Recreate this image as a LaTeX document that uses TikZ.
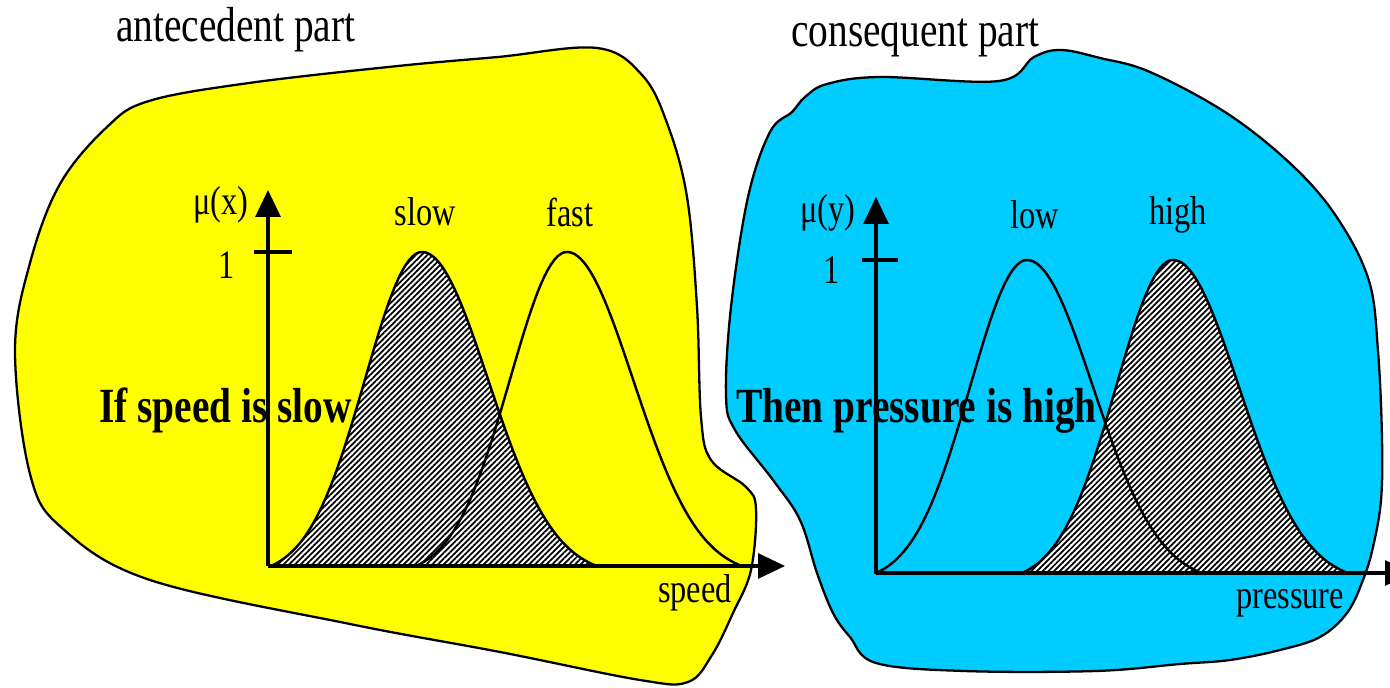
\documentclass[tikz,border=0pt]{standalone}
\usepackage{fontspec}
\setmainfont{Liberation Serif}[FakeStretch=0.8]
\usepackage{xcolor}
\usetikzlibrary{arrows.meta,patterns.meta}
\definecolor{sunblob}{RGB}{255,255,0}
\definecolor{skyblob}{RGB}{0,204,255}

\begin{document}
\begin{tikzpicture}[
  x=0.02cm, y=-0.02cm,
  blob/.style={draw=black, line width=1.3pt, line join=round},
  axis/.style={line width=1.8pt, -{Triangle[width=0.5cm,length=0.54cm]}},
  tickmark/.style={line width=1.8pt},
  curve/.style={line width=1.4pt},
  hatched/.style={preaction={fill=white},
    pattern={Lines[angle=45,distance=2.3pt,line width=1pt]}},
  title/.style={font=\fontsize{28}{32}\selectfont, anchor=base west},
  rule/.style={font=\fontsize{28}{32}\selectfont\bfseries, anchor=base west},
  lbl/.style={font=\fontsize{23}{27}\selectfont, inner sep=0pt},
  declare function={
    sig(\x,\c) = (\x<\c)*57 + (\x>=\c)*66;
    mf(\x,\c) = max(0, (exp(-0.5*((\x-\c)/sig(\x,\c))^2) - 0.03)/0.97);
  }
]
\clip (0,0) rectangle (1390,688);

% Antecedent region
\draw[blob, fill=sunblob] plot[smooth cycle, tension=0.6] coordinates {
  (107,127) (149,101) (249,83) (398,66) (498,57) (597,48) (642,75)
  (667,123) (687,197) (697,307) (701,417) (711,460) (746,487) (756,509)
  (751,570) (733,613) (712,655) (688,682) (640,680) (500,652) (350,624)
  (150,580) (62,528) (30,474) (15,351) (30,263) (60,184)};

% Consequent region
\draw[blob, fill=skyblob] plot[smooth cycle, tension=0.6] coordinates {
  (792,112) (805,97) (827,84) (880,77) (999,81) (1034,57)
  (1061,50) (1100,58) (1150,72) (1228,114) (1294,167) (1338,219)
  (1369,281) (1378,351) (1382,439) (1381,500) (1373,547) (1363,580)
  (1347,613) (1320,637) (1280,650) (1230,660) (1180,664) (1096,671)
  (964,671) (876,663) (850,637) (833,613) (817,573) (800,520) (773,480)
  (735,430) (726,395) (731,307) (748,197) (770,132)};

% Axes anchors
\coordinate (o1) at (268,566);
\coordinate (xa1) at (785,566);
\coordinate (ya1) at (268,190);
\coordinate (t1a) at (254,252);
\coordinate (t1b) at (292,252);
\coordinate (o2) at (876,573);
\coordinate (xa2) at (1412,573);
\coordinate (ya2) at (876,197);
\coordinate (t2a) at (862,260);
\coordinate (t2b) at (898,260);

% Membership functions: speed
\fill[hatched] plot[domain=268:600, samples=100] (\x,{566-314*mf(\x,422)}) -- cycle;
\draw[curve] plot[domain=268:600, samples=100] (\x,{566-314*mf(\x,422)});
\draw[curve] plot[domain=414:745, samples=100] (\x,{566-314*mf(\x,567)});

% Membership functions: pressure
\fill[hatched] plot[domain=1020:1350, samples=100] (\x,{573-313*mf(\x,1173)}) -- cycle;
\draw[curve] plot[domain=1020:1350, samples=100] (\x,{573-313*mf(\x,1173)});
\draw[curve] plot[domain=874:1204, samples=100] (\x,{573-313*mf(\x,1027)});

% Axes
\draw[axis] (o1) -- (xa1);
\draw[axis] (o1) -- (ya1);
\draw[tickmark] (t1a) -- (t1b);
\draw[axis] (o2) -- (xa2);
\draw[axis] (o2) -- (ya2);
\draw[tickmark] (t2a) -- (t2b);

% Labels
\node[title] (ante) at (110,42) {antecedent part};
\node[title] (cons) at (785,47) {consequent part};
\node[lbl] (mux) at (221,205) {μ(x)};
\node[lbl] (one1) at (227,265) {1};
\node[lbl] (slow) at (425,212) {slow};
\node[lbl] (fast) at (570,212) {fast};
\node[lbl] (speed) at (695,593) {speed};
\node[lbl] (muy) at (828,213) {μ(y)};
\node[lbl] (one2) at (832,270) {1};
\node[lbl] (low) at (1035,215) {low};
\node[lbl] (high) at (1178,215) {high};
\node[lbl] (press) at (1290,603) {pressure};
\node[rule] (ifpart) at (93,423) {If speed is slow};
\node[rule] (thenpart) at (730,423) {Then pressure is high};

\end{tikzpicture}
\end{document}
